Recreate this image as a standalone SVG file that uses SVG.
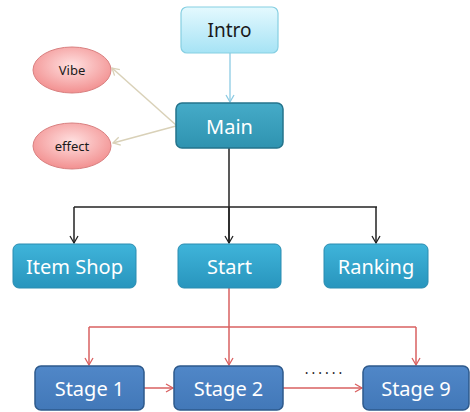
<svg xmlns="http://www.w3.org/2000/svg" width="470" height="412" viewBox="0 0 470 412">
<defs>
<linearGradient id="gIntro" x1="0" y1="0" x2="0" y2="1"><stop offset="0" stop-color="#e4f9fe"/><stop offset="1" stop-color="#a6e3f5"/></linearGradient>
<linearGradient id="gMain" x1="0" y1="0" x2="0" y2="1"><stop offset="0" stop-color="#45abc8"/><stop offset="1" stop-color="#2f93b0"/></linearGradient>
<linearGradient id="gMid" x1="0" y1="0" x2="0" y2="1"><stop offset="0" stop-color="#3fb4da"/><stop offset="1" stop-color="#2895bd"/></linearGradient>
<linearGradient id="gStage" x1="0" y1="0" x2="0" y2="1"><stop offset="0" stop-color="#5087c8"/><stop offset="1" stop-color="#4278b8"/></linearGradient>
<radialGradient id="gPink" cx="0.5" cy="0.4" r="0.6"><stop offset="0" stop-color="#ffe0e0"/><stop offset="1" stop-color="#f29090"/></radialGradient>
<marker id="aBlue" markerWidth="10" markerHeight="10" refX="8" refY="5" orient="auto" markerUnits="userSpaceOnUse"><path d="M1,1 L8,5 L1,9" fill="none" stroke="#8ccbe3" stroke-width="1.3"/></marker>
<marker id="aTan" markerWidth="10" markerHeight="10" refX="8" refY="5" orient="auto" markerUnits="userSpaceOnUse"><path d="M1,1 L8,5 L1,9" fill="none" stroke="#d9d1b8" stroke-width="1.3"/></marker>
<marker id="aBlack" markerWidth="10" markerHeight="10" refX="8" refY="5" orient="auto" markerUnits="userSpaceOnUse"><path d="M1,1 L8,5 L1,9" fill="none" stroke="#222" stroke-width="1.3"/></marker>
<marker id="aRed" markerWidth="10" markerHeight="10" refX="8" refY="5" orient="auto" markerUnits="userSpaceOnUse"><path d="M1,1 L8,5 L1,9" fill="none" stroke="#d96060" stroke-width="1.3"/></marker>
</defs>
<style>
.t{font-family:"Noto Sans","Open Sans",sans-serif;font-size:20px;text-anchor:middle;dominant-baseline:central}
.w{fill:#ffffff}
.d{fill:#1a1a1a}
.s{font-size:13px}
.cb{fill:none;stroke:#8ccbe3;stroke-width:1.3}
.ct{fill:none;stroke:#d9d1b8;stroke-width:1.5}
.ck{fill:none;stroke:#222;stroke-width:1.5}
.cr{fill:none;stroke:#d96060;stroke-width:1.5}
</style>
<rect width="470" height="412" fill="#ffffff"/>
<g id="connectors">
<path class="cb" d="M230,53 V102" marker-end="url(#aBlue)"/>
<path class="ct" d="M176,125 L112,68" marker-end="url(#aTan)"/>
<path class="ct" d="M176,126 L113,143" marker-end="url(#aTan)"/>
<path class="ck" d="M229,148 V243"/>
<path class="ck" d="M74,207 H377"/>
<path class="ck" d="M74,207 V243" marker-end="url(#aBlack)"/>
<path class="ck" d="M229,207 V243" marker-end="url(#aBlack)"/>
<path class="ck" d="M376,207 V243" marker-end="url(#aBlack)"/>
<path class="cr" d="M229,288 V365" marker-end="url(#aRed)"/>
<path class="cr" d="M89,327 H416"/>
<path class="cr" d="M89,327 V365" marker-end="url(#aRed)"/>
<path class="cr" d="M416,327 V365" marker-end="url(#aRed)"/>
<path class="cr" d="M144,388 H173" marker-end="url(#aRed)"/>
<path class="cr" d="M283,388 H362" marker-end="url(#aRed)"/>
</g>
<g id="intro"><rect x="181" y="7" width="97" height="46" rx="6" fill="url(#gIntro)" stroke="#86cfe2" stroke-width="1.2"/><text class="t d" x="229.5" y="30" style="font-size:19px">Intro</text></g>
<g id="main"><rect x="176" y="103" width="107" height="45" rx="6" fill="url(#gMain)" stroke="#24748c" stroke-width="1.5"/><text class="t w" x="229.5" y="126">Main</text></g>
<g id="vibe"><ellipse cx="72" cy="70" rx="39" ry="23" fill="url(#gPink)" stroke="#d98080" stroke-width="1"/><text class="t d s" x="72" y="70">Vibe</text></g>
<g id="effect"><ellipse cx="72" cy="146" rx="39" ry="23" fill="url(#gPink)" stroke="#d98080" stroke-width="1"/><text class="t d s" x="72" y="146">effect</text></g>
<g id="itemshop"><rect x="13" y="244" width="123" height="44" rx="6" fill="url(#gMid)" stroke="#2a8cb0" stroke-width="1"/><text class="t w" x="74.5" y="266">Item Shop</text></g>
<g id="start"><rect x="178" y="244" width="103" height="44" rx="6" fill="url(#gMid)" stroke="#2a8cb0" stroke-width="1"/><text class="t w" x="229.5" y="266">Start</text></g>
<g id="ranking"><rect x="324" y="244" width="104" height="44" rx="6" fill="url(#gMid)" stroke="#2a8cb0" stroke-width="1"/><text class="t w" x="376" y="266">Ranking</text></g>
<g id="stage1"><rect x="35" y="366" width="109" height="44" rx="6" fill="url(#gStage)" stroke="#2e5a8c" stroke-width="1.5"/><text class="t w" x="89.5" y="388">Stage 1</text></g>
<g id="stage2"><rect x="174" y="366" width="109" height="44" rx="6" fill="url(#gStage)" stroke="#2e5a8c" stroke-width="1.5"/><text class="t w" x="228.5" y="388">Stage 2</text></g>
<g id="stage9"><rect x="363" y="366" width="106" height="44" rx="6" fill="url(#gStage)" stroke="#2e5a8c" stroke-width="1.5"/><text class="t w" x="416" y="388">Stage 9</text></g>
<text x="325" y="374" style="font-family:'Noto Sans',sans-serif;font-size:14px;letter-spacing:3px;text-anchor:middle;fill:#222">......</text>
</svg>
